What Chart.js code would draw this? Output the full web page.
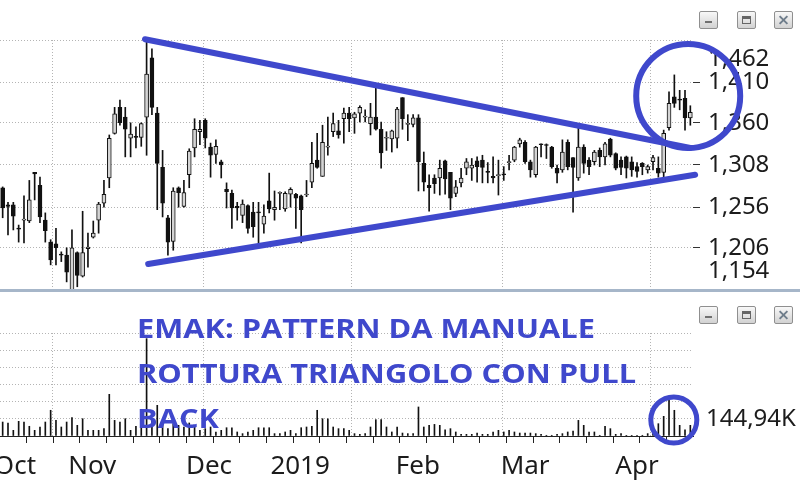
<!DOCTYPE html>
<html>
<head>
<meta charset="utf-8">
<title>EMAK</title>
<script src="https://cdn.jsdelivr.net/npm/chart.js@4.4.1/dist/chart.umd.min.js"></script>
<style>
    html, body { margin: 0; padding: 0; background: #fff; }
    #stage { position: relative; width: 800px; height: 480px; overflow: hidden; }
    #priceChart { position: absolute; left: 0; top: 0; }
    #volumeChart { position: absolute; left: 0; top: 292px; }
    .divider { position: absolute; left: 0; top: 289px; width: 800px; height: 3px; background: #a6b6c9; }
    .win-btn {
        position: absolute; width: 17px; height: 16px;
        border: 1px solid #8f8f8f; border-radius: 2px;
        background: linear-gradient(#f8f8f8, #d2d2d2);
    }
    .win-btn.min::after { content: ''; position: absolute; left: 5px; top: 9px; width: 7px; height: 2px; background: #707070; }
    .win-btn.max::after { content: ''; position: absolute; left: 4px; top: 4px; width: 7px; height: 4px; border: 1px solid #666; border-top-width: 3px; }
    .win-btn.close::before, .win-btn.close::after {
        content: ''; position: absolute; left: 3px; top: 7px; width: 11px; height: 2px; background: #6f7d8c;
    }
    .win-btn.close::before { transform: rotate(45deg); }
    .win-btn.close::after { transform: rotate(-45deg); }
    .note {
        position: absolute; left: 137px; top: 305px;
        font-family: "Open Sans", sans-serif; font-weight: 700; font-size: 27px; line-height: 45px;
        color: #3f48cc; white-space: nowrap;
        transform: scaleX(1.14); transform-origin: 0 0;
    }
</style>
</head>
<body>
<div id="stage">
    <canvas id="priceChart" width="800" height="292"></canvas>
    <canvas id="volumeChart" width="800" height="188"></canvas>
    <div class="divider"></div>
    <div class="win-btn min" style="left:699px; top:11px;"></div>
    <div class="win-btn max" style="left:737px; top:11px;"></div>
    <div class="win-btn close" style="left:774px; top:11px;"></div>
    <div class="win-btn min" style="left:699px; top:306px;"></div>
    <div class="win-btn max" style="left:737px; top:306px;"></div>
    <div class="win-btn close" style="left:774px; top:306px;"></div>
    <div class="note">EMAK: PATTERN DA MANUALE<br>ROTTURA TRIANGOLO CON PULL<br>BACK</div>
</div>
<script>
// daily candles, Oct 2018 -> Apr 2019 (EUR)
const opens = [
    1.280, 1.259, 1.259, 1.230, 1.240, 1.239, 1.299, 1.283, 1.240, 1.213,
    1.211, 1.198, 1.197, 1.154, 1.200, 1.171, 1.205, 1.219, 1.240, 1.261,
    1.292, 1.347, 1.379, 1.367, 1.341, 1.343, 1.342, 1.367, 1.440, 1.372,
    1.305, 1.243, 1.214, 1.280, 1.257, 1.296, 1.329, 1.349, 1.363, 1.330,
    1.321, 1.312, 1.278, 1.273, 1.257, 1.246, 1.258, 1.250, 1.250, 1.235,
    1.264, 1.253, 1.273, 1.254, 1.272, 1.272, 1.270, 1.271, 1.287, 1.314,
    1.294, 1.330, 1.349, 1.350, 1.365, 1.372, 1.366, 1.372, 1.367, 1.359,
    1.367, 1.352, 1.341, 1.340, 1.341, 1.391, 1.358, 1.358, 1.366, 1.310,
    1.283, 1.292, 1.292, 1.313, 1.299, 1.273, 1.286, 1.304, 1.304, 1.313,
    1.314, 1.300, 1.294, 1.295, 1.297, 1.311, 1.314, 1.334, 1.336, 1.312,
    1.296, 1.334, 1.333, 1.330, 1.304, 1.302, 1.336, 1.317, 1.292, 1.330,
    1.314, 1.312, 1.326, 1.318, 1.340, 1.322, 1.314, 1.318, 1.312, 1.306,
    1.310, 1.302, 1.312, 1.304, 1.299, 1.354, 1.392, 1.389, 1.390, 1.366
];
const highs = [
    1.281, 1.262, 1.262, 1.234, 1.270, 1.289, 1.299, 1.293, 1.249, 1.216,
    1.230, 1.201, 1.206, 1.228, 1.201, 1.251, 1.224, 1.239, 1.262, 1.289,
    1.345, 1.379, 1.388, 1.379, 1.360, 1.355, 1.360, 1.462, 1.451, 1.379,
    1.326, 1.246, 1.280, 1.281, 1.289, 1.328, 1.365, 1.363, 1.365, 1.335,
    1.339, 1.314, 1.286, 1.277, 1.262, 1.265, 1.259, 1.262, 1.262, 1.259,
    1.298, 1.276, 1.275, 1.275, 1.280, 1.273, 1.271, 1.289, 1.336, 1.347,
    1.357, 1.367, 1.372, 1.363, 1.378, 1.379, 1.373, 1.381, 1.376, 1.384,
    1.404, 1.361, 1.349, 1.351, 1.379, 1.391, 1.370, 1.370, 1.370, 1.324,
    1.296, 1.296, 1.314, 1.314, 1.299, 1.289, 1.304, 1.316, 1.316, 1.318,
    1.320, 1.311, 1.318, 1.314, 1.306, 1.320, 1.331, 1.341, 1.338, 1.314,
    1.331, 1.334, 1.334, 1.331, 1.308, 1.339, 1.339, 1.317, 1.354, 1.333,
    1.317, 1.326, 1.329, 1.336, 1.341, 1.323, 1.318, 1.319, 1.318, 1.311,
    1.311, 1.308, 1.320, 1.318, 1.351, 1.398, 1.419, 1.400, 1.400, 1.381
];
const lows = [
    1.243, 1.222, 1.228, 1.213, 1.212, 1.237, 1.265, 1.237, 1.213, 1.185,
    1.185, 1.189, 1.164, 1.154, 1.158, 1.170, 1.182, 1.218, 1.224, 1.256,
    1.280, 1.346, 1.357, 1.318, 1.318, 1.329, 1.331, 1.320, 1.370, 1.253,
    1.244, 1.197, 1.203, 1.256, 1.256, 1.280, 1.318, 1.333, 1.329, 1.293,
    1.310, 1.292, 1.255, 1.230, 1.240, 1.237, 1.224, 1.219, 1.212, 1.224,
    1.249, 1.240, 1.253, 1.251, 1.256, 1.230, 1.212, 1.269, 1.280, 1.304,
    1.294, 1.320, 1.343, 1.341, 1.335, 1.349, 1.347, 1.361, 1.361, 1.345,
    1.351, 1.304, 1.326, 1.324, 1.329, 1.352, 1.338, 1.355, 1.276, 1.276,
    1.251, 1.273, 1.271, 1.272, 1.253, 1.269, 1.281, 1.296, 1.289, 1.287,
    1.286, 1.286, 1.286, 1.271, 1.289, 1.302, 1.312, 1.330, 1.310, 1.293,
    1.293, 1.318, 1.316, 1.304, 1.286, 1.299, 1.302, 1.250, 1.289, 1.298,
    1.296, 1.308, 1.306, 1.308, 1.318, 1.302, 1.296, 1.292, 1.294, 1.293,
    1.296, 1.298, 1.302, 1.293, 1.293, 1.351, 1.379, 1.376, 1.351, 1.357
];
const closes = [
    1.255, 1.257, 1.245, 1.229, 1.241, 1.265, 1.297, 1.244, 1.227, 1.191,
    1.206, 1.197, 1.176, 1.206, 1.172, 1.200, 1.207, 1.224, 1.260, 1.272,
    1.341, 1.371, 1.360, 1.352, 1.346, 1.342, 1.359, 1.420, 1.379, 1.310,
    1.261, 1.213, 1.276, 1.274, 1.274, 1.325, 1.352, 1.352, 1.341, 1.320,
    1.331, 1.308, 1.275, 1.255, 1.255, 1.260, 1.230, 1.232, 1.249, 1.245,
    1.254, 1.256, 1.274, 1.273, 1.278, 1.267, 1.253, 1.272, 1.310, 1.305,
    1.336, 1.331, 1.359, 1.345, 1.372, 1.365, 1.371, 1.379, 1.368, 1.367,
    1.352, 1.323, 1.341, 1.350, 1.377, 1.365, 1.358, 1.366, 1.312, 1.287,
    1.280, 1.285, 1.304, 1.291, 1.267, 1.281, 1.292, 1.312, 1.308, 1.306,
    1.305, 1.299, 1.292, 1.295, 1.296, 1.312, 1.330, 1.339, 1.312, 1.302,
    1.330, 1.333, 1.332, 1.306, 1.298, 1.324, 1.306, 1.305, 1.330, 1.310,
    1.306, 1.324, 1.318, 1.334, 1.320, 1.304, 1.305, 1.304, 1.302, 1.300,
    1.306, 1.306, 1.317, 1.298, 1.347, 1.384, 1.384, 1.388, 1.366, 1.373
];
// volume in thousands of shares
const volumes = [
    118, 110, 48, 124, 118, 82, 48, 76, 118, 217,
    132, 76, 118, 155, 90, 146, 48, 48, 48, 62,
    352, 132, 118, 146, 48, 82, 118, 822, 150, 259,
    118, 62, 104, 90, 76, 110, 76, 48, 62, 76,
    34, 48, 70, 70, 34, 20, 34, 48, 70, 70,
    70, 20, 20, 34, 48, 20, 70, 76, 82, 217,
    146, 146, 76, 62, 62, 48, 20, 14, 20, 76,
    138, 138, 76, 34, 76, 25, 20, 20, 245, 76,
    90, 98, 90, 53, 62, 34, 14, 14, 14, 25,
    14, 14, 34, 48, 34, 48, 34, 25, 25, 25,
    20, 14, 6, 6, 14, 20, 34, 42, 132, 90,
    34, 34, 6, 82, 62, 14, 20, 3, 3, 6,
    6, 20, 62, 104, 166, 301, 217, 90, 53, 90
];

// axis labels sit at the first session of each month (candle index)
const monthLabels = ['Oct', 'Nov', 'Dec', '2019', 'Feb', 'Mar', 'Apr'];
const monthLabelAt = [2.3, 16.8, 38.7, 55.8, 77.9, 98.0, 119.0];
const verticalGridAt = [9.4, 37.6, 65.5, 93.7, 121.6];
const priceTicks = [1.206, 1.256, 1.308, 1.360, 1.410];
const priceMin = 1.154;
const priceMax = 1.462;
const volumeStep = 144.94;
const volumeSteps = 6;

// hand drawn annotations
const upperTrend = [{ x: 26.7, y: 1.463 }, { x: 129.0, y: 1.329 }];
const lowerTrend = [{ x: 27.3, y: 1.186 }, { x: 129.9, y: 1.296 }];
const breakoutRing = [{ x: 128.6, y: 1.393, r: 52 }];
const volumeRing = [{ x: 125.9, y: 136, r: 23 }];

const INK = '#3f48cc';
const GRID = '#b4b4b4';
const TEXT = '#1c1c1c';
const X_MIN = -0.5;
const X_MAX = opens.length - 0.5;

Chart.defaults.font.family = '"Noto Sans", "Open Sans", sans-serif';
Chart.defaults.color = TEXT;

function priceLabel(value) {
    return value.toFixed(3).replace('.', ',');
}

// pin an axis to a fixed size and drop the label overflow padding
function fixWidth(width) {
    return (scale) => {
        scale.width = width;
        scale.paddingTop = 0;
        scale.paddingBottom = 0;
    };
}

function fixHeight(height) {
    return (scale) => {
        scale.height = height;
        scale.paddingLeft = 0;
        scale.paddingRight = 0;
    };
}

function tickList(values) {
    return (scale) => { scale.ticks = values.map((value) => ({ value })); };
}

function gridAxis(weight) {
    return {
        type: 'linear', min: X_MIN, max: X_MAX, offset: false, weight,
        grid: { offset: false, color: GRID, drawTicks: false },
        border: { display: false, dash: [1, 2] },
        ticks: { display: false },
        afterBuildTicks: tickList(verticalGridAt),
        afterFit: fixHeight(0),
    };
}

function buildPriceChart() {
    const index = opens.map((_, i) => i);
    const wicks = index.map((i) => ({ x: i, y: [lows[i], highs[i]] }));
    const bodies = index.map((i) => ({ x: i, y: [Math.min(opens[i], closes[i]), Math.max(opens[i], closes[i])] }));
    const inset = (priceMax - priceMin) * 0.077;

    new Chart(document.getElementById('priceChart'), {
        type: 'bar',
        data: {
            datasets: [
                { type: 'line', data: upperTrend, borderColor: INK, borderWidth: 6, borderCapStyle: 'round', pointRadius: 0, clip: false, order: 0 },
                { type: 'line', data: lowerTrend, borderColor: INK, borderWidth: 6, borderCapStyle: 'round', pointRadius: 0, clip: false, order: 0 },
                { type: 'bubble', data: breakoutRing, backgroundColor: 'transparent', borderColor: INK, borderWidth: 6, clip: false, order: 0 },
                {
                    data: bodies, grouped: false, barThickness: 4, minBarLength: 1,
                    backgroundColor: (ctx) => (closes[ctx.dataIndex] >= opens[ctx.dataIndex] ? '#d4d4d4' : '#111'),
                    borderColor: '#111', borderWidth: 1, borderSkipped: false, order: 1,
                },
                { data: wicks, grouped: false, barThickness: 1, backgroundColor: '#111', borderWidth: 0, order: 2 },
            ]
        },
        options: {
            responsive: false,
            animation: false,
            events: [],
            layout: { autoPadding: false, padding: { top: 40, bottom: 2, left: 0, right: 0 } },
            plugins: { legend: { display: false }, tooltip: { enabled: false } },
            scales: {
                x: gridAxis(0),
                y: {
                    position: 'right', min: priceMin, max: priceMax,
                    grid: {
                        color: (ctx) => (ctx.tick && ctx.tick.edge ? 'transparent' : GRID),
                        tickColor: (ctx) => (ctx.tick && (ctx.tick.edge || ctx.tick.value === priceMax) ? 'transparent' : '#333'),
                        tickLength: 7,
                    },
                    border: { display: false, dash: [1, 2] },
                    ticks: {
                        autoSkip: false, padding: 8, crossAlign: 'near',
                        font: { size: 24 },
                        callback: (value, i, ticks) => ticks[i].text,
                    },
                    afterBuildTicks: (scale) => {
                        scale.ticks = priceTicks.map((value) => ({ value, text: priceLabel(value) }));
                        scale.ticks.push({ value: priceMax, text: '' });
                        scale.ticks.push({ value: priceMax - inset, text: priceLabel(priceMax), edge: true });
                        scale.ticks.push({ value: priceMin + inset, text: priceLabel(priceMin), edge: true });
                    },
                    afterFit: fixWidth(107),
                }
            }
        }
    });
}

function buildVolumeChart() {
    const bars = volumes.map((value, i) => ({ x: i, y: value }));
    const weekTicks = [];
    for (let at = 4.5; at < X_MAX; at += 5) {
        weekTicks.push(at);
    }
    const volumeTicks = [];
    for (let k = 0; k <= volumeSteps; k += 1) {
        volumeTicks.push(k * volumeStep);
    }

    new Chart(document.getElementById('volumeChart'), {
        type: 'bar',
        data: {
            datasets: [
                { type: 'bubble', data: volumeRing, backgroundColor: 'transparent', borderColor: INK, borderWidth: 5, clip: false, order: 0 },
                { data: bars, grouped: false, barThickness: 1, backgroundColor: '#111', borderWidth: 0, order: 1 },
            ]
        },
        options: {
            responsive: false,
            animation: false,
            events: [],
            layout: { autoPadding: false, padding: { top: 41, bottom: 0, left: 0, right: 0 } },
            plugins: { legend: { display: false }, tooltip: { enabled: false } },
            scales: {
                x: {
                    type: 'linear', min: X_MIN, max: X_MAX, offset: false, weight: 2,
                    grid: { display: false, offset: false },
                    border: { display: false },
                    ticks: {
                        autoSkip: false, maxRotation: 0, padding: 7,
                        font: { size: 26 },
                        callback: (value, i) => monthLabels[i],
                    },
                    afterBuildTicks: tickList(monthLabelAt),
                    afterFit: fixHeight(44),
                },
                xWeek: {
                    type: 'linear', min: X_MIN, max: X_MAX, offset: false, position: 'bottom', weight: 0,
                    grid: { offset: false, drawOnChartArea: false, tickLength: 7, tickColor: '#222' },
                    border: { display: true, color: '#222', width: 1 },
                    ticks: { display: false },
                    afterBuildTicks: tickList(weekTicks),
                    afterFit: fixHeight(0),
                },
                xGrid: Object.assign(gridAxis(1), { position: 'bottom' }),
                y: {
                    position: 'right', min: 0, max: volumeStep * volumeSteps,
                    grid: { color: GRID, drawTicks: false },
                    border: { display: false, dash: [1, 2] },
                    ticks: {
                        autoSkip: false, padding: 13, crossAlign: 'near',
                        font: { size: 24 },
                        callback: (value, i) => (i === 1 ? '144,94K' : ''),
                    },
                    afterBuildTicks: tickList(volumeTicks),
                    afterFit: fixWidth(107),
                }
            }
        }
    });
}

buildPriceChart();
buildVolumeChart();
</script>
</body>
</html>
